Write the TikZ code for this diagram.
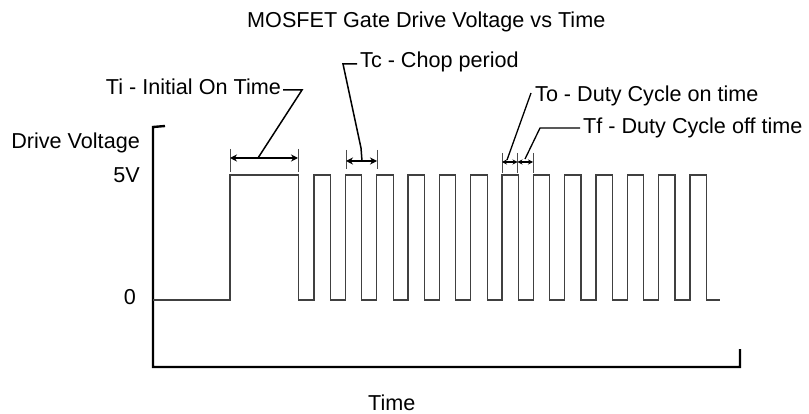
\documentclass[tikz,border=0pt]{standalone}
\usepackage{fontspec}
\setmainfont{Liberation Sans}
\usetikzlibrary{arrows.meta}
\begin{document}
\begin{tikzpicture}[x=1pt,y=-1pt,
  lbl/.style={inner sep=0pt,font=\fontsize{21.6}{25}\selectfont},
  axisline/.style={line width=2.4pt,black},
  wave/.style={line width=1.3pt,black!75},
  dim/.style={line width=1.8pt,black,{Stealth[length=7pt,width=7pt]}-{Stealth[length=7pt,width=7pt]}},
  smalldim/.style={line width=1.3pt,black,{Stealth[length=5pt,width=5pt]}-{Stealth[length=5pt,width=5pt]}},
  ext/.style={line width=1pt,black!70},
  leader/.style={line width=1.5pt,black}]
\useasboundingbox (0,0) rectangle (809,414);
% title and labels
\node[lbl,anchor=west] (title) at (247,22) {MOSFET Gate Drive Voltage vs Time};
\node[lbl,anchor=east] (dv) at (140,143) {Drive Voltage};
\node[lbl,anchor=east] (fivev) at (140,175) {5V};
\node[lbl,anchor=east] (zero) at (136,297) {0};
\node[lbl,anchor=west] (time) at (368,403) {Time};
\node[lbl,anchor=east] (ti) at (281,87) {Ti - Initial On Time};
\node[lbl,anchor=west] (tc) at (360,62) {Tc - Chop period};
\node[lbl,anchor=west] (to) at (535,96) {To - Duty Cycle on time};
\node[lbl,anchor=west] (tf) at (583,128) {Tf - Duty Cycle off time};
% axes
\coordinate (ytop) at (153,127);
\coordinate (ytick) at (165,126);
\coordinate (orig) at (153,367);
\coordinate (xend) at (740,367);
\coordinate (xtick) at (740,349);
\draw[axisline] (ytick) -- (ytop) -- (orig) -- (xend) -- (xtick);
% waveform
\draw[wave] (153,300) -- (230,300) -- (230,175) -- (298.5,175) -- (298.5,300)
  foreach \i in {0,...,12} { -- ({314+31.33*\i},300) -- ({314+31.33*\i},175)
  -- ({330.5+31.33*\i},175) -- ({330.5+31.33*\i},300) } -- (720,300);
% Ti dimension
\draw[ext] (230,149) -- (230,172) (298,149) -- (298,172);
\coordinate (tiL) at (230,158);
\coordinate (tiR) at (298,158);
\draw[dim] (tiL) -- (tiR);
\coordinate (tiA) at (258,158);
\coordinate (tiB) at (302,90);
\coordinate (tiC) at (283,90);
\draw[leader] (tiA) -- (tiB) -- (tiC);
% Tc dimension
\draw[ext] (346,150) -- (346,169) (377,150) -- (377,169);
\coordinate (tcL) at (346,161);
\coordinate (tcR) at (377,161);
\draw[dim] (tcL) -- (tcR);
\coordinate (tcA) at (362,161);
\coordinate (tcM) at (361,148);
\coordinate (tcB) at (343,64);
\coordinate (tcC) at (357,64);
\draw[leader] (tcA) -- (tcM) -- (tcB) -- (tcC);
% To / Tf dimensions
\draw[ext] (502,153) -- (502,173) (517.5,153) -- (517.5,173) (533,153) -- (533,173);
\coordinate (toL) at (502,162);
\coordinate (toR) at (517.5,162);
\coordinate (tfR) at (533,162);
\draw[smalldim] (toL) -- (toR);
\draw[smalldim] (toR) -- (tfR);
\coordinate (toA) at (507,160);
\coordinate (toB) at (531,93);
\draw[leader,line width=1.3pt] (toA) -- (toB);
\coordinate (tfA) at (525,159);
\coordinate (tfB) at (540,128);
\coordinate (tfC) at (580,128);
\draw[leader,line width=1.3pt] (tfA) -- (tfB) -- (tfC);
\end{tikzpicture}
\end{document}
